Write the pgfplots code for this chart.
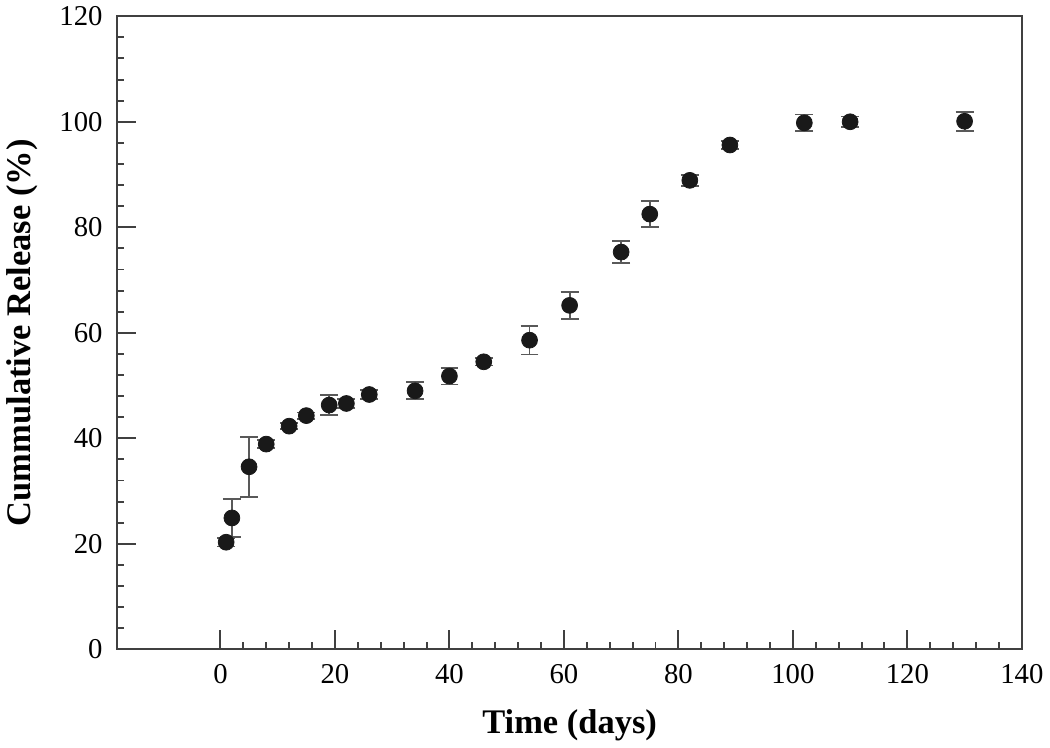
\documentclass[border=0pt]{standalone}
\usepackage{fontspec}
\setmainfont{Liberation Serif}
\usepackage{pgfplots}
\pgfplotsset{compat=1.18}
\begin{document}
\begin{tikzpicture}
\begin{axis}[
 width=456.5pt, height=319.5pt, scale only axis,
 xmin=-18, xmax=140, ymin=0, ymax=120,
 xtick={0,20,...,140}, ytick={0,20,...,120},
 minor x tick num=4, minor y tick num=4,
 tick align=inside, xtick pos=bottom, ytick pos=left,
 major tick length=9.5pt, minor tick length=3.5pt,
 axis line style={line width=1pt, color=black!75},
 every tick/.style={line width=1pt, color=black!75},
 /pgf/number format/assume math mode=true,
 ticklabel style={font=\fontsize{14.5}{17}\selectfont},
 xticklabel style={yshift=-4pt},
 yticklabel style={xshift=-4pt},
 xlabel={Time (days)}, ylabel={Cummulative Release (\%)},
 label style={font=\fontsize{17.4}{20}\selectfont\bfseries},
 xlabel style={yshift=-6pt},
 ylabel style={yshift=4pt},
]
\addplot[only marks, mark=*, mark size=4pt, color=black!90,
  error bars/.cd, y dir=both, y explicit,
  error bar style={color=black!65, line width=0.9pt},
  error mark options={rotate=90, mark size=4.5pt, line width=0.9pt, color=black!65}]
table[x=x, y=y, y error=e] {
x y e
1 20.3 0.8
2 24.9 3.6
5 34.6 5.7
8 38.9 0.8
12 42.3 0.6
15 44.3 0.6
19 46.3 1.9
22 46.6 0.8
26 48.3 0.8
34 49.0 1.6
40 51.8 1.6
46 54.5 0.7
54 58.6 2.7
61 65.2 2.6
70 75.3 2.1
75 82.5 2.5
82 88.9 1.0
89 95.6 0.8
102 99.8 1.6
110 100.0 1.0
130 100.1 1.8
};
\end{axis}
\end{tikzpicture}
\end{document}
